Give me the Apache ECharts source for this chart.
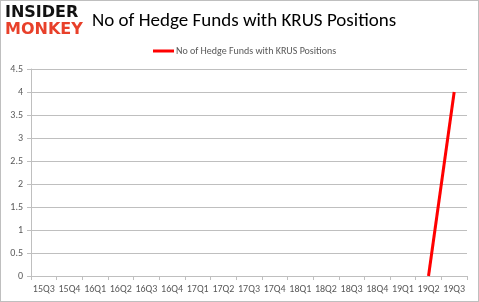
<!DOCTYPE html>
<html><head><meta charset="utf-8">
<script src="https://cdn.jsdelivr.net/npm/echarts@6/dist/echarts.min.js"></script>
<style>html,body{margin:0;padding:0;background:#fff}#c{width:479px;height:302px;box-sizing:border-box;border:1px solid #bfbfbf}</style>
</head><body><div id="c"></div>
<script>
const categories = ["15Q3","15Q4","16Q1","16Q2","16Q3","16Q4","17Q1","17Q2","17Q3","17Q4","18Q1","18Q2","18Q3","18Q4","19Q1","19Q2","19Q3"];
const hedgeFunds = [null,null,null,null,null,null,null,null,null,null,null,null,null,null,null,0,4];
const seriesName = "No of Hedge Funds with KRUS Positions";
const chart = echarts.init(document.getElementById('c'), null, {renderer:'canvas'});
chart.setOption({
  animation:false,
  title:{text:seriesName,left:86,top:6,textStyle:{fontFamily:'Carlito, "Open Sans", sans-serif',fontSize:19,fontWeight:500,color:'#000'}},
  graphic:[
    {type:'text',left:4,top:4,style:{text:'INSIDER',fontFamily:'"DejaVu Sans", sans-serif',fontWeight:900,fontSize:16,fill:'#111'}},
    {type:'text',left:4,top:21,style:{text:'MONKEY',fontFamily:'"DejaVu Sans", sans-serif',fontWeight:900,fontSize:16,fill:'#e8402a'}}
  ],
  legend:{top:40,left:147,itemWidth:21,itemHeight:3,itemGap:2,icon:'rect',
    textStyle:{fontFamily:'Carlito, "Open Sans", sans-serif',fontSize:10,color:'#595959',padding:[0,0,0,-3]},
    data:[seriesName]},
  grid:{left:30,right:11,top:68,bottom:25,containLabel:false},
  xAxis:{type:'category',data:categories,boundaryGap:true,
    axisLine:{lineStyle:{color:'#bfbfbf'}},
    axisTick:{show:true,length:4,lineStyle:{color:'#bfbfbf'}},
    axisLabel:{color:'#595959',fontSize:10,margin:8,interval:0,fontFamily:'Carlito, "Open Sans", sans-serif'}},
  yAxis:{type:'value',min:0,max:4.5,interval:0.5,
    axisLine:{show:true,lineStyle:{color:'#bfbfbf'}},
    axisTick:{show:true,length:4,lineStyle:{color:'#bfbfbf'}},
    splitLine:{lineStyle:{color:'#bfbfbf'}},
    axisLabel:{color:'#595959',fontSize:10,margin:8,fontFamily:'Carlito, "Open Sans", sans-serif'}},
  series:[{name:seriesName,type:'line',data:hedgeFunds,showSymbol:false,connectNulls:false,
    lineStyle:{color:'#ff0000',width:3},itemStyle:{color:'#ff0000'}}]
});
</script></body></html>
